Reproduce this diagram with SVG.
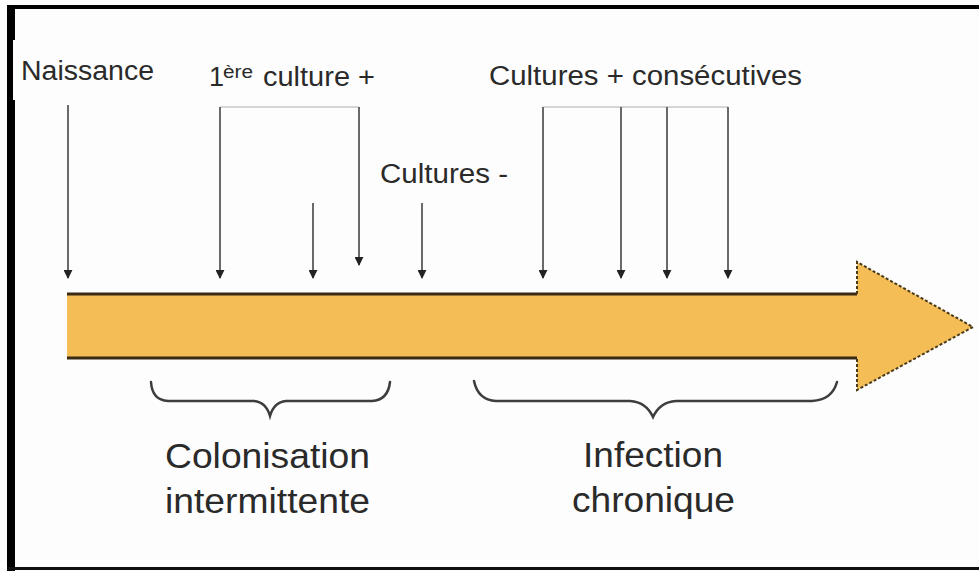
<svg xmlns="http://www.w3.org/2000/svg" width="979" height="571" viewBox="0 0 979 571">
<defs>
<style>
.t{font-family:"Liberation Sans",Arial,sans-serif;fill:#2a2a2a}
.s{font-size:27px}
.b{font-size:35px}
.v{stroke:#5a5a5a;stroke-width:1.8;fill:none}
.h{stroke:#c8c8c8;stroke-width:1.5;fill:none}
.br{stroke:#3d3d3d;stroke-width:2.5;fill:none;stroke-linecap:round}
</style>
<marker id="ah" viewBox="0 0 10 10" refX="9" refY="5" markerWidth="9" markerHeight="9" markerUnits="userSpaceOnUse" orient="auto">
<path d="M0,0 L10,5 L0,10 z" fill="#222"/>
</marker>
</defs>
<rect x="0" y="0" width="979" height="571" fill="#fdfdfd"/>
<g id="frame">
<rect x="7" y="5" width="972" height="4" fill="#000"/>
<rect x="7" y="5" width="8" height="566" fill="#000"/>
<rect x="7" y="567" width="972" height="3" fill="#111"/>
<rect x="13" y="40" width="150" height="60" fill="#fdfdfd"/>
</g>
<g id="timeline">
<path d="M67,294 L857,294 L857,262 L973,327 L857,390 L857,358 L67,358 Z" fill="#F4BD55"/>
<line x1="67" y1="294" x2="857" y2="294" stroke="#3a2a12" stroke-width="3"/>
<line x1="67" y1="358" x2="857" y2="358" stroke="#3a2a12" stroke-width="3"/>
<path d="M857,294 L857,262 L973,327 L857,390 L857,358" fill="none" stroke="#4a3a1a" stroke-width="2" stroke-dasharray="3,2"/>
</g>
<g id="connectors">
<line class="h" x1="220" y1="107" x2="359" y2="107"/>
<line class="h" x1="543" y1="107" x2="728" y2="107"/>
<line class="v" x1="68" y1="105" x2="68" y2="278" marker-end="url(#ah)"/>
<line class="v" x1="220" y1="107" x2="220" y2="278" marker-end="url(#ah)"/>
<line class="v" x1="313" y1="203" x2="313" y2="278" marker-end="url(#ah)"/>
<line class="v" x1="359" y1="107" x2="359" y2="265" marker-end="url(#ah)"/>
<line class="v" x1="422" y1="203" x2="422" y2="278" marker-end="url(#ah)"/>
<line class="v" x1="543" y1="107" x2="543" y2="278" marker-end="url(#ah)"/>
<line class="v" x1="621" y1="107" x2="621" y2="278" marker-end="url(#ah)"/>
<line class="v" x1="667" y1="107" x2="667" y2="278" marker-end="url(#ah)"/>
<line class="v" x1="728" y1="107" x2="728" y2="278" marker-end="url(#ah)"/>
</g>
<g id="naissance">
<text class="t s" x="21" y="80" textLength="133" lengthAdjust="spacingAndGlyphs">Naissance</text>
</g>
<g id="premiere-culture">
<text class="t s" y="86"><tspan x="209">1</tspan><tspan x="223" y="78" style="font-size:18px" textLength="30" lengthAdjust="spacingAndGlyphs">ère</tspan><tspan x="263" y="86" textLength="112" lengthAdjust="spacingAndGlyphs">culture +</tspan></text>
</g>
<g id="cultures-neg">
<text class="t s" x="380" y="183" textLength="128" lengthAdjust="spacingAndGlyphs">Cultures -</text>
</g>
<g id="cultures-consecutives">
<text class="t s" x="489" y="85" textLength="313" lengthAdjust="spacingAndGlyphs">Cultures + consécutives</text>
</g>
<g id="colonisation">
<path class="br" d="M151,382 Q152,400 168,401 L254,401 Q266,402 270,416 Q274,402 286,401 L372,401 Q388,400 390,382"/>
<text class="t b" x="165" y="468" textLength="205" lengthAdjust="spacingAndGlyphs">Colonisation</text>
<text class="t b" x="165" y="513" textLength="205" lengthAdjust="spacingAndGlyphs">intermittente</text>
</g>
<g id="infection">
<path class="br" d="M474,381 Q478,400 496,401 L630,401 Q646,402 653,417 Q660,402 676,401 L812,401 Q832,400 837,382"/>
<text class="t b" x="583" y="467" textLength="140" lengthAdjust="spacingAndGlyphs">Infection</text>
<text class="t b" x="572" y="512" textLength="163" lengthAdjust="spacingAndGlyphs">chronique</text>
</g>
</svg>
